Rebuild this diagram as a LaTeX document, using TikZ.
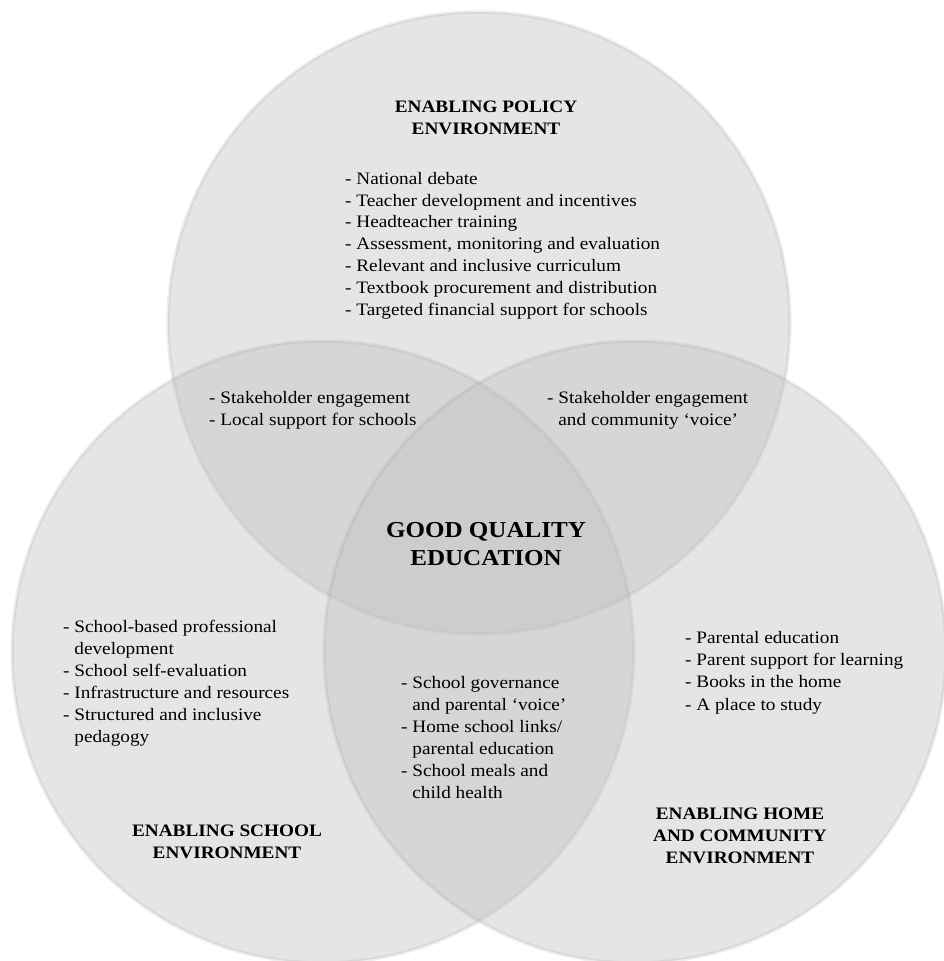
\documentclass[tikz,border=0pt]{standalone}
\usepackage{fontspec}
\setmainfont{Liberation Serif}[FakeStretch=1.1]

\tikzset{
  venn/.style={fill=black!25, fill opacity=0.4, draw=black!45, draw opacity=0.15, line width=3.5pt},
  item/.style={anchor=base west, align=left, inner sep=0pt, font=\fontsize{17.5}{21.8}\selectfont},
  head/.style={anchor=base, align=center, inner sep=0pt, font=\fontsize{17.5}{21.8}\selectfont\bfseries},
}

\begin{document}
\begin{tikzpicture}[x=1pt, y=-1pt]
  \useasboundingbox (0,0) rectangle (944,961);

  % Three circles
  \def\rad{311pt}
  \coordinate (Cp) at (479,323);
  \coordinate (Cs) at (323,652);
  \coordinate (Ch) at (635,652);
  \draw[venn] (Cp) circle (\rad);
  \draw[venn] (Cs) circle (\rad);
  \draw[venn] (Ch) circle (\rad);

  % Policy circle (base = last line)
  \node[head] (policy) at (486,134) {ENABLING POLICY\\ENVIRONMENT};
  \node[item] (policylist) at (345,315) {- National debate\\
    - Teacher development and incentives\\
    - Headteacher training\\
    - Assessment, monitoring and evaluation\\
    - Relevant and inclusive curriculum\\
    - Textbook procurement and distribution\\
    - Targeted financial support for schools};

  % Overlaps with the policy circle
  \node[item] (ps) at (209,425) {- Stakeholder engagement\\- Local support for schools};
  \node[item] (ph) at (547,425) {- Stakeholder engagement\\\phantom{- }and community `voice'};

  % Centre
  \node[head, font=\fontsize{22.8}{28}\selectfont\bfseries] (quality) at (486,565) {GOOD QUALITY\\EDUCATION};

  % School circle
  \node[item, font=\fontsize{17.5}{22}\selectfont] (schoollist) at (63,742) {- School-based professional\\
    \phantom{- }development\\
    - School self-evaluation\\
    - Infrastructure and resources\\
    - Structured and inclusive\\
    \phantom{- }pedagogy};
  \node[head] (school) at (227,858) {ENABLING SCHOOL\\ENVIRONMENT};

  % Overlap of school and home
  \node[item, font=\fontsize{17.5}{22}\selectfont] (sh) at (401,798) {- School governance\\
    \phantom{- }and parental `voice'\\
    - Home school links/\\
    \phantom{- }parental education\\
    - School meals and\\
    \phantom{- }child health};

  % Home circle
  \node[item, font=\fontsize{17.5}{22.3}\selectfont] (homelist) at (685,710) {- Parental education\\
    - Parent support for learning\\
    - Books in the home\\
    - A place to study};
  \node[head] (home) at (740,863) {ENABLING HOME\\AND COMMUNITY\\ENVIRONMENT};

\end{tikzpicture}
\end{document}
